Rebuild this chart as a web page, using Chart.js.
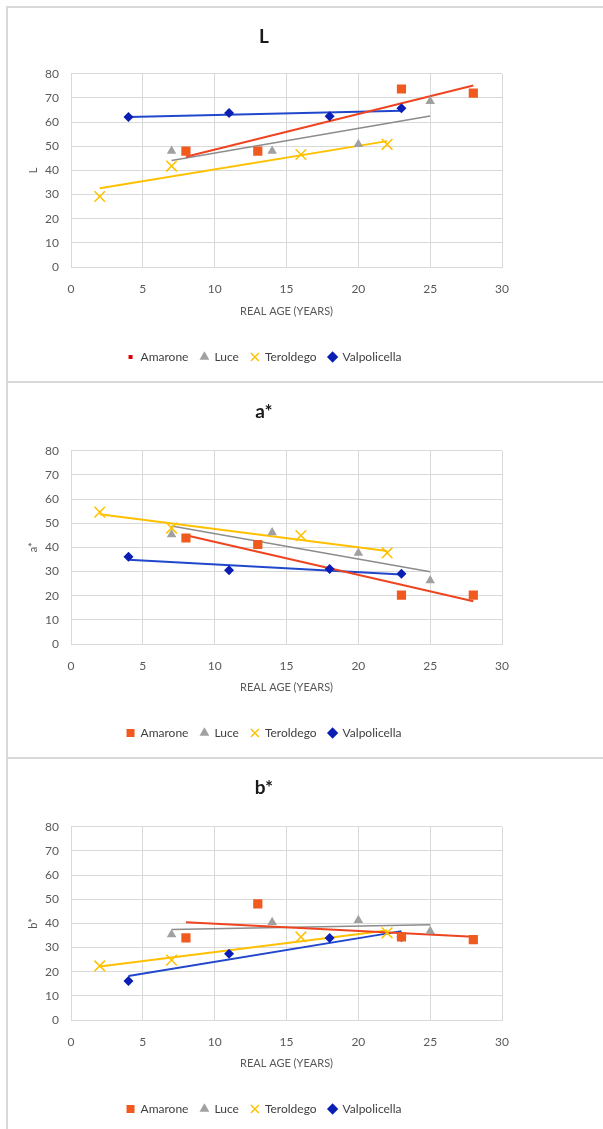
<!DOCTYPE html>
<html lang="en">
<head>
<meta charset="UTF-8">
<title>L, a*, b* vs real age</title>
<script src="https://cdn.jsdelivr.net/npm/chart.js"></script>
<style>
  body { margin: 0; background: #fff; width: 603px; height: 1129px; overflow: hidden; position: relative; }
  .panel { position: absolute; left: 6px; right: 0; border-top: 2px solid #d9d9d9; border-left: 2px solid #d9d9d9; }
  .panel canvas { display: block; }
</style>
</head>
<body>
<div class="panel" style="top:6px;height:373px"><canvas id="chartL" width="516" height="373"></canvas></div>
<div class="panel" style="top:381px;height:374px"><canvas id="chartA" width="516" height="374"></canvas></div>
<div class="panel" style="top:757px;height:374px"><canvas id="chartB" width="516" height="374"></canvas></div>

<script>
// real age (years) of each wine sample
const amaroneAge = [8, 13, 23, 28];
const luceAge = [7, 14, 20, 25];
const teroldegoAge = [2, 7, 16, 22];
const valpolicellaAge = [4, 11, 18, 23];

// L
const amaroneL = [48, 48, 73.7, 72];
const luceL = [48, 48, 50.8, 68.6];
const teroldegoL = [29.2, 41.8, 46.6, 50.8];
const valpolicellaL = [62.1, 63.8, 62.4, 65.7];

// a*
const amaroneA = [43.9, 41.2, 20.2, 20.2];
const luceA = [45.3, 46.2, 37.7, 26.3];
const teroldegoA = [54.6, 48, 44.9, 37.7];
const valpolicellaA = [36.1, 30.5, 31.1, 29.1];

// b*
const amaroneB = [34, 48.1, 34.4, 33.3];
const luceB = [35.4, 40.5, 41.3, 36.8];
const teroldegoB = [22.4, 24.8, 34.4, 36.1];
const valpolicellaB = [16.2, 27.4, 34, 34.4];

const xTicks = [0, 5, 10, 15, 20, 25, 30];
const yTicks = [0, 10, 20, 30, 40, 50, 60, 70, 80];

const wines = [
  { name: 'Amarone', age: amaroneAge, color: '#F05A1E', line: '#EE4420', style: 'rect', r: 6.5, bw: 0 },
  { name: 'Luce', age: luceAge, color: '#A0A0A0', line: '#8C8C8C', style: 'triangle', r: 5.5, bw: 0 },
  { name: 'Teroldego', age: teroldegoAge, color: '#FFC000', line: '#FFC000', style: 'crossRot', r: 7.5, bw: 1.5 },
  { name: 'Valpolicella', age: valpolicellaAge, color: '#0A1EB4', line: '#2148CC', style: 'rectRot', r: 5, bw: 0 }
];

const FONT = 'Lato, "Liberation Sans", sans-serif';
const GREY = '#595959';

// linear trendline (least squares), drawn between min and max age
function trend(xs, ys) {
  const n = xs.length;
  const mx = xs.reduce((a, b) => a + b, 0) / n;
  const my = ys.reduce((a, b) => a + b, 0) / n;
  let sxy = 0, sxx = 0;
  xs.forEach((x, i) => { sxy += (x - mx) * (ys[i] - my); sxx += (x - mx) * (x - mx); });
  const k = sxy / sxx;
  const x0 = Math.min(...xs), x1 = Math.max(...xs);
  return [{ x: x0, y: my + k * (x0 - mx) }, { x: x1, y: my + k * (x1 - mx) }];
}

// little red square used in the first legend
const smallRed = document.createElement('canvas');
smallRed.width = 8; smallRed.height = 8;
const sctx = smallRed.getContext('2d');
sctx.fillStyle = '#E00000';
sctx.fillRect(2, 2, 4, 4);

function makeChart(id, title, yTitle, values, opt) {
  const datasets = [];
  wines.forEach((w, i) => {
    datasets.push({
      label: w.name,
      data: w.age.map((x, j) => ({ x, y: values[i][j] })),
      pointStyle: w.style,
      pointRadius: w.r,
      pointHoverRadius: w.r,
      pointBackgroundColor: w.color,
      pointBorderColor: w.color,
      pointBorderWidth: w.bw,
      backgroundColor: w.color,
      borderColor: w.color,
      borderWidth: w.bw,
      showLine: false,
      order: 1
    });
  });
  wines.forEach((w, i) => {
    datasets.push({
      label: w.name + ' trend',
      data: trend(w.age, values[i]),
      showLine: true,
      borderColor: w.line,
      borderWidth: w.name === 'Luce' ? 1.5 : 2,
      pointRadius: 0,
      pointHoverRadius: 0,
      fill: false,
      order: 2
    });
  });

  new Chart(document.getElementById(id), {
    type: 'scatter',
    data: { datasets },
    options: {
      responsive: false,
      animation: false,
      events: [],
      layout: { padding: { left: 13, right: 17, top: 0, bottom: 8 } },
      plugins: {
        tooltip: { enabled: false },
        title: {
          display: true,
          text: title,
          color: '#1a1a1a',
          font: { family: FONT, size: 19, weight: 'bold' },
          padding: { top: 17, bottom: opt.titleGap }
        },
        legend: {
          position: 'bottom',
          labels: {
            usePointStyle: true,
            boxWidth: 8,
            boxHeight: 8,
            padding: 12,
            color: '#404040',
            font: { family: FONT, size: 12 },
            filter: item => item.datasetIndex < 4,
            generateLabels: chart => {
              const items = Chart.defaults.plugins.legend.labels.generateLabels(chart);
              if (opt.smallLegend) items[0].pointStyle = smallRed;
              return items;
            }
          }
        }
      },
      scales: {
        x: {
          type: 'linear',
          min: 0,
          max: 30,
          afterBuildTicks: axis => { axis.ticks = xTicks.map(v => ({ value: v })); },
          afterFit: axis => { axis.height = opt.xHeight; },
          grid: { color: '#D9D9D9', drawTicks: false },
          border: { color: '#D9D9D9' },
          ticks: { color: GREY, padding: 15, font: { family: FONT, size: 12 } },
          title: {
            display: true,
            text: 'REAL AGE (YEARS)',
            color: GREY,
            font: { family: FONT, size: 11 },
            padding: { top: 4, bottom: 21 }
          }
        },
        y: {
          min: 0,
          max: 80,
          afterBuildTicks: axis => { axis.ticks = yTicks.map(v => ({ value: v })); },
          afterFit: axis => { axis.width = 50; },
          grid: { color: '#D9D9D9', drawTicks: false },
          border: { color: '#D9D9D9' },
          ticks: { color: GREY, padding: 12, font: { family: FONT, size: 12 } },
          title: {
            display: true,
            text: yTitle,
            color: GREY,
            font: { family: FONT, size: 11 },
            padding: { top: 6, bottom: 6 }
          }
        }
      }
    }
  });
}

makeChart('chartL', 'L', 'L', [amaroneL, luceL, teroldegoL, valpolicellaL], { titleGap: 26, xHeight: 72, smallLegend: true });
makeChart('chartA', 'a*', 'a*', [amaroneA, luceA, teroldegoA, valpolicellaA], { titleGap: 28, xHeight: 71, smallLegend: false });
makeChart('chartB', 'b*', 'b*', [amaroneB, luceB, teroldegoB, valpolicellaB], { titleGap: 28, xHeight: 71, smallLegend: false });
</script>
</body>
</html>
